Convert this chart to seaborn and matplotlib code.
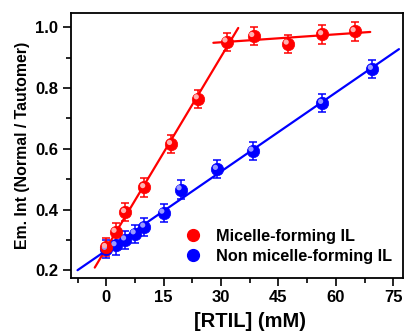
import numpy as np
import pandas as pd
import matplotlib
matplotlib.use("Agg")
import matplotlib.pyplot as plt
import matplotlib.transforms as mtransforms
from matplotlib.lines import Line2D
from matplotlib.ticker import MultipleLocator
import seaborn as sns

# data
micelle_x = [0, 2.5, 5, 10, 17, 24, 31.5, 38.5, 47.5, 56.5, 65]
micelle_y = [0.276, 0.326, 0.391, 0.473, 0.615, 0.765, 0.952, 0.970, 0.945, 0.976, 0.986]
micelle_err = [0.03] * 11

non_x = [0, 2.5, 5, 7.5, 10, 15, 19.5, 29, 38.3, 56.5, 69.5]
non_y = [0.270, 0.282, 0.301, 0.321, 0.343, 0.389, 0.466, 0.533, 0.593, 0.750, 0.862]
non_err = [0.03] * 11

# linear fit segments: (points used, x range drawn)
fit_micelle_pre = (slice(0, 7), (-3.0, 34.5))
fit_micelle_post = (slice(6, 11), (28.0, 69.0))
fit_non = (slice(0, 11), (-7.5, 76.5))

xticks = [0, 15, 30, 45, 60, 75]
yticks = [0.2, 0.4, 0.6, 0.8, 1.0]

sns.set_theme(style="ticks")
plt.rcParams['font.family'] = ['Liberation Sans', 'DejaVu Sans']
plt.rcParams['font.weight'] = 'bold'
for key in ['text.color', 'axes.labelcolor', 'xtick.color', 'ytick.color', 'axes.edgecolor']:
    plt.rcParams[key] = 'black'

fig, ax = plt.subplots(figsize=(4.06, 3.31), dpi=100)
fig.subplots_adjust(left=0.174, right=0.993, top=0.962, bottom=0.161)


def fit_line(xs, ys, sel, xr, color):
    k, b = np.polyfit(np.array(xs)[sel], np.array(ys)[sel], 1)
    xx = np.linspace(xr[0], xr[1], 50)
    df = pd.DataFrame({'x': xx, 'y': k * xx + b})
    sns.lineplot(data=df, x='x', y='y', ax=ax, color=color, lw=1.6, zorder=2)


def balls(xs, ys, errs, color, light):
    ax.errorbar(xs, ys, yerr=errs, fmt='none', ecolor=color, elinewidth=1.1,
                capsize=3, capthick=1.1, zorder=3)
    df = pd.DataFrame({'x': xs, 'y': ys})
    sns.scatterplot(data=df, x='x', y='y', ax=ax, color=color, s=80,
                    edgecolor=color, linewidth=0.5, zorder=4)
    # highlight to fake the 3D ball look
    off = mtransforms.offset_copy(ax.transData, fig=fig, x=-1.3, y=1.3, units='points')
    ax.scatter(xs, ys, s=14, color=light, edgecolor='none', transform=off, zorder=5)


fit_line(micelle_x, micelle_y, *fit_micelle_pre, '#ff0000')
fit_line(micelle_x, micelle_y, *fit_micelle_post, '#ff0000')
fit_line(non_x, non_y, *fit_non, '#0000ff')

balls(non_x, non_y, non_err, '#0000ff', '#9a9aff')
balls(micelle_x, micelle_y, micelle_err, '#ff0000', '#ffb0b0')

ax.set_xlim(-9.3, 77.6)
ax.set_ylim(0.176, 1.048)
ax.set_xticks(xticks)
ax.set_yticks(yticks)
ax.xaxis.set_minor_locator(MultipleLocator(7.5))
ax.yaxis.set_minor_locator(MultipleLocator(0.1))
ax.set_yticklabels([f"{v:.1f}" for v in yticks])
ax.tick_params(which='major', direction='out', length=6, width=1.2, labelsize=12, pad=3,
               color='black', labelcolor='black', top=False, right=False)
ax.tick_params(which='minor', direction='out', length=3.5, width=1.2, color='black',
               top=False, right=False)
for lab in ax.get_xticklabels() + ax.get_yticklabels():
    lab.set_fontweight('bold')
for s in ax.spines.values():
    s.set_linewidth(1.3)
    s.set_color('black')

ax.set_xlabel('[RTIL] (mM)', fontsize=14.5, fontweight='bold', color='black')
ax.xaxis.set_label_coords(0.538, -0.128)
ax.set_ylabel('Em. Int (Normal / Tautomer)', fontsize=11.4, fontweight='bold', labelpad=4,
              color='black')

handles = [
    Line2D([], [], marker='o', ls='none', color='#ff0000', markersize=8.5),
    Line2D([], [], marker='o', ls='none', color='#0000ff', markersize=8.5),
]
ax.legend(handles, ['Micelle-forming IL', 'Non micelle-forming IL'], loc='lower right',
          frameon=False, prop={'weight': 'bold', 'size': 11.7},
          handletextpad=0.4, labelspacing=0.3, borderaxespad=0.3,
          bbox_to_anchor=(1.0, 0.01))

fig.savefig('out.png', dpi=100)
